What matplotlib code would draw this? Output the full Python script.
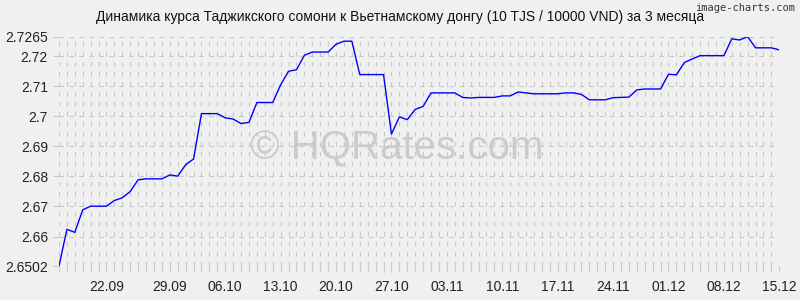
import matplotlib
matplotlib.use("Agg")
import matplotlib.pyplot as plt
from matplotlib.ticker import MultipleLocator

title = "Динамика курса Таджикского сомони к Вьетнамскому донгу (10 TJS / 10000 VND) за 3 месяца"

rates = [
    2.6502, 2.6624, 2.6614, 2.6689, 2.6701, 2.6701, 2.6701, 2.6720, 2.6729, 2.6750,
    2.6789, 2.6792, 2.6792, 2.6792, 2.6805, 2.6801, 2.6839, 2.6858, 2.7009, 2.7009,
    2.7009, 2.6995, 2.6991, 2.6976, 2.6980, 2.7046, 2.7046, 2.7046, 2.7105, 2.7150,
    2.7155, 2.7203, 2.7214, 2.7214, 2.7214, 2.7240, 2.7250, 2.7250, 2.7139, 2.7139,
    2.7139, 2.7139, 2.6941, 2.6998, 2.6989, 2.7023, 2.7033, 2.7078, 2.7078, 2.7078,
    2.7078, 2.7063, 2.7061, 2.7063, 2.7063, 2.7063, 2.7068, 2.7068, 2.7081, 2.7078,
    2.7075, 2.7075, 2.7075, 2.7075, 2.7078, 2.7078, 2.7073, 2.7055, 2.7055, 2.7055,
    2.7062, 2.7063, 2.7064, 2.7088, 2.7091, 2.7091, 2.7091, 2.7140, 2.7138, 2.7179,
    2.7191, 2.7202, 2.7202, 2.7202, 2.7202, 2.7258, 2.7254, 2.7265, 2.7228, 2.7228,
    2.7228, 2.7221,
]

x_tick_labels = ["22.09", "29.09", "06.10", "13.10", "20.10", "27.10", "03.11",
                 "10.11", "17.11", "24.11", "01.12", "08.12", "15.12"]
x_tick_index = [6, 14, 21, 28, 35, 42, 49, 56, 63, 70, 77, 84, 91]

y_ticks = [2.6502, 2.66, 2.67, 2.68, 2.69, 2.7, 2.71, 2.72, 2.7265]
y_tick_labels = ["2.6502", "2.66", "2.67", "2.68", "2.69", "2.7", "2.71", "2.72", "2.7265"]

bg = "#f0f0f0"
plt.rcParams["font.family"] = ["Liberation Sans", "DejaVu Sans"]

fig = plt.figure(figsize=(8, 3), dpi=100, facecolor=bg)
ax = fig.add_axes([59 / 800, 1 - 266 / 300, (779.3 - 59) / 800, (266 - 36.7) / 300])
ax.set_facecolor(bg)

xs = list(range(len(rates)))
ax.plot(xs, rates, color="#0000ff", linewidth=1.0, zorder=3)

ax.set_xlim(0, len(rates) - 1)
ax.set_ylim(y_ticks[0], y_ticks[-1])

ax.set_yticks(y_ticks)
ax.set_yticklabels(y_tick_labels)
ax.set_xticks(x_tick_index)
ax.set_xticklabels(x_tick_labels)
ax.xaxis.set_minor_locator(MultipleLocator(1))

for s in ax.spines.values():
    s.set_visible(False)

ax.tick_params(axis="both", which="both", length=4, width=0.8, color="#c8c8c8",
               labelsize=10, labelcolor="#222222")
ax.tick_params(axis="x", which="major", pad=6)
ax.tick_params(axis="y", which="major", pad=4)

grid_kw = dict(color="#c8c8c8", linewidth=0.8, linestyle=(0, (4, 5)))
ax.grid(True, axis="x", which="both", **grid_kw)
ax.grid(True, axis="y", which="major", **grid_kw)
ax.set_axisbelow(True)

fig.text(0.5, 1 - 17 / 300, title, ha="center", va="center", fontsize=10, color="#111111")
fig.text(0.994, 1 - 8 / 300, "image-charts.com", ha="right", va="center",
         fontsize=7.5, color="#333333", family=["DejaVu Sans Mono", "DejaVu Sans"])
fig.text(397 / 800, 1 - 148 / 300, "© HQRates.com", ha="center", va="center",
         fontsize=29, color="#c8c8c8", alpha=0.9, zorder=0)

fig.savefig("out.png", dpi=100, facecolor=bg)
